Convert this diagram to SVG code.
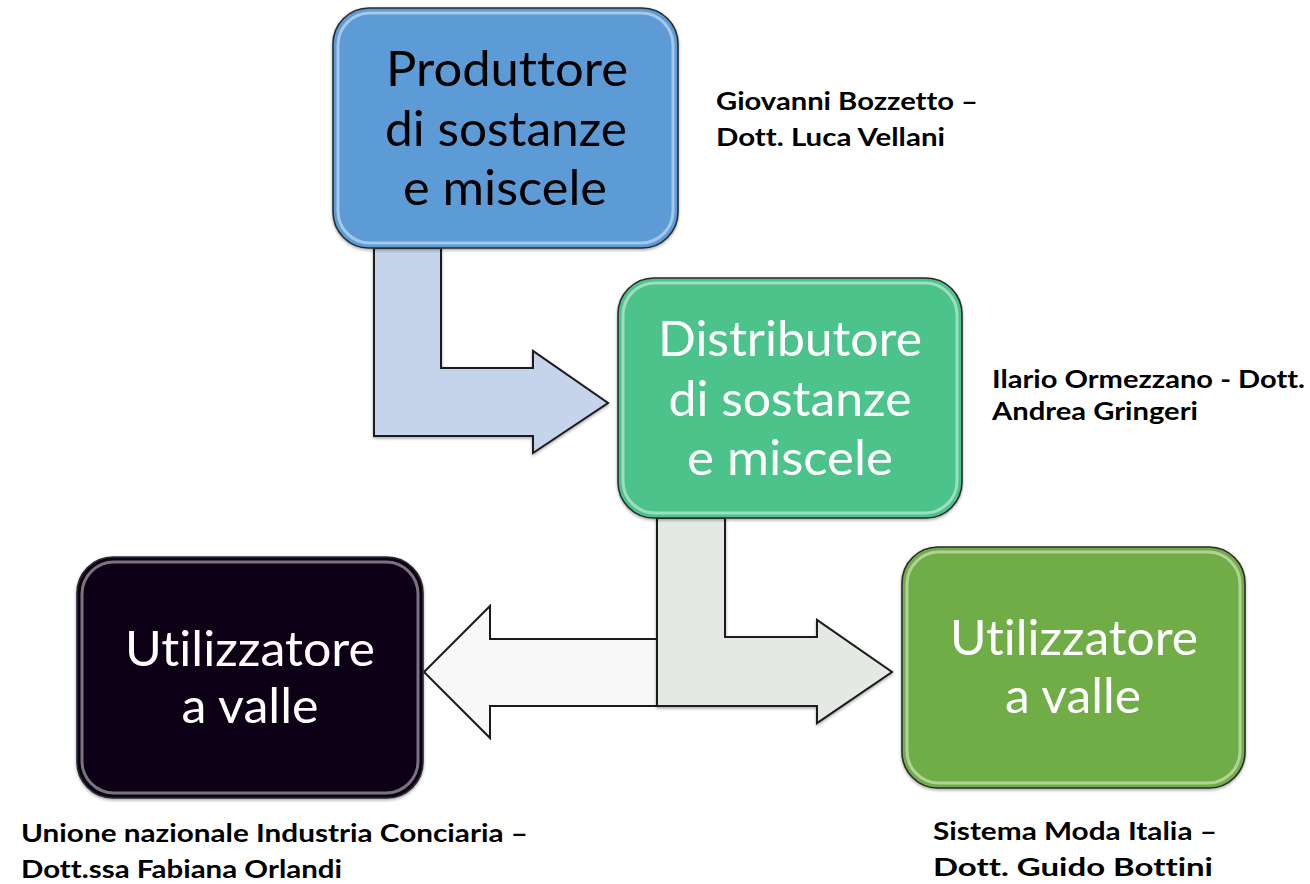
<svg xmlns="http://www.w3.org/2000/svg" width="1310" height="884" viewBox="0 0 1310 884">
<defs>
<style>
.box{stroke:#2b2b2b;stroke-width:1.6}
.hl{fill:none;stroke:#ffffff;stroke-opacity:0.45;stroke-width:3}
.t{font-family:Lato,"Open Sans","Liberation Sans",sans-serif;font-size:48px;text-anchor:middle;font-variant-ligatures:none;font-feature-settings:"liga" 0,"clig" 0,"dlig" 0}
.lbl{font-family:Lato,"Open Sans","Liberation Sans",sans-serif;font-size:25.5px;font-weight:bold;fill:#000;font-variant-ligatures:none;font-feature-settings:"liga" 0,"clig" 0,"dlig" 0}
.arr{stroke:#1a1a1a;stroke-width:2;stroke-linejoin:miter}
</style>
<filter id="sh" x="-5%" y="-5%" width="110%" height="110%">
<feDropShadow dx="0" dy="1.5" stdDeviation="1.5" flood-color="#000" flood-opacity="0.35"/>
</filter>
</defs>
<rect width="1310" height="884" fill="#ffffff"/>
<g id="connectors">
<path class="arr" fill="#c5d4ea" filter="url(#sh)" d="M374,248 L441,248 L441,368 L533,368 L533,351 L608,403 L533,453 L533,436 L374,436 Z"/>
<path class="arr" fill="#f8f8f8" d="M657,639 L490,639 L490,606 L424,672 L490,738 L490,706 L657,706 Z"/>
<path class="arr" fill="#e5e9e3" filter="url(#sh)" d="M657,518 L725,518 L725,637 L817,637 L817,620 L892,672 L817,723 L817,706 L657,706 Z"/>
</g>
<g id="node-produttore">
<rect class="box" x="333" y="8" width="345" height="240" rx="36" fill="#5b9bd5" filter="url(#sh)"/>
<rect class="hl" x="338" y="13" width="335" height="230" rx="32"/>
<text class="t" fill="#000" x="507" y="86" textLength="242" lengthAdjust="spacingAndGlyphs">Produttore</text>
<text class="t" fill="#000" x="506" y="146" textLength="242" lengthAdjust="spacingAndGlyphs">di sostanze</text>
<text class="t" fill="#000" x="505" y="205" textLength="204" lengthAdjust="spacingAndGlyphs">e miscele</text>
</g>
<g id="node-distributore">
<rect class="box" x="618" y="278" width="344" height="240" rx="36" fill="#4cc38b" filter="url(#sh)"/>
<rect class="hl" x="623" y="283" width="334" height="230" rx="32"/>
<text class="t" fill="#fff" x="790" y="356" textLength="264" lengthAdjust="spacingAndGlyphs">Distributore</text>
<text class="t" fill="#fff" x="790" y="416" textLength="243" lengthAdjust="spacingAndGlyphs">di sostanze</text>
<text class="t" fill="#fff" x="790" y="475" textLength="206" lengthAdjust="spacingAndGlyphs">e miscele</text>
</g>
<g id="node-utilizzatore-sx">
<rect class="box" x="77" y="557" width="346" height="241" rx="36" fill="#0c0619" filter="url(#sh)"/>
<rect class="hl" x="82" y="562" width="336" height="231" rx="32" stroke-opacity="0.3"/>
<text class="t" fill="#fff" x="250" y="666" textLength="250" lengthAdjust="spacingAndGlyphs">Utilizzatore</text>
<text class="t" fill="#fff" x="250" y="723" textLength="137" lengthAdjust="spacingAndGlyphs">a valle</text>
</g>
<g id="node-utilizzatore-dx">
<rect class="box" x="902" y="547" width="343" height="241" rx="36" fill="#71ad47" filter="url(#sh)"/>
<rect class="hl" x="907" y="552" width="333" height="231" rx="32"/>
<text class="t" fill="#fff" x="1074" y="655" textLength="248" lengthAdjust="spacingAndGlyphs">Utilizzatore</text>
<text class="t" fill="#fff" x="1073" y="713" textLength="136" lengthAdjust="spacingAndGlyphs">a valle</text>
</g>
<g id="labels">
<text class="lbl" x="716" y="110" textLength="262" lengthAdjust="spacingAndGlyphs">Giovanni Bozzetto –</text>
<text class="lbl" x="716" y="146" textLength="229" lengthAdjust="spacingAndGlyphs">Dott. Luca Vellani</text>
<text class="lbl" x="992" y="388" textLength="313" lengthAdjust="spacingAndGlyphs">Ilario Ormezzano - Dott.</text>
<text class="lbl" x="992" y="420" textLength="206" lengthAdjust="spacingAndGlyphs">Andrea Gringeri</text>
<text class="lbl" x="21" y="842" textLength="507" lengthAdjust="spacingAndGlyphs">Unione nazionale Industria Conciaria –</text>
<text class="lbl" x="21" y="878" textLength="321" lengthAdjust="spacingAndGlyphs">Dott.ssa Fabiana Orlandi</text>
<text class="lbl" x="933" y="840" textLength="284" lengthAdjust="spacingAndGlyphs">Sistema Moda Italia –</text>
<text class="lbl" x="933" y="876" textLength="280" lengthAdjust="spacingAndGlyphs">Dott. Guido Bottini</text>
</g>
</svg>
